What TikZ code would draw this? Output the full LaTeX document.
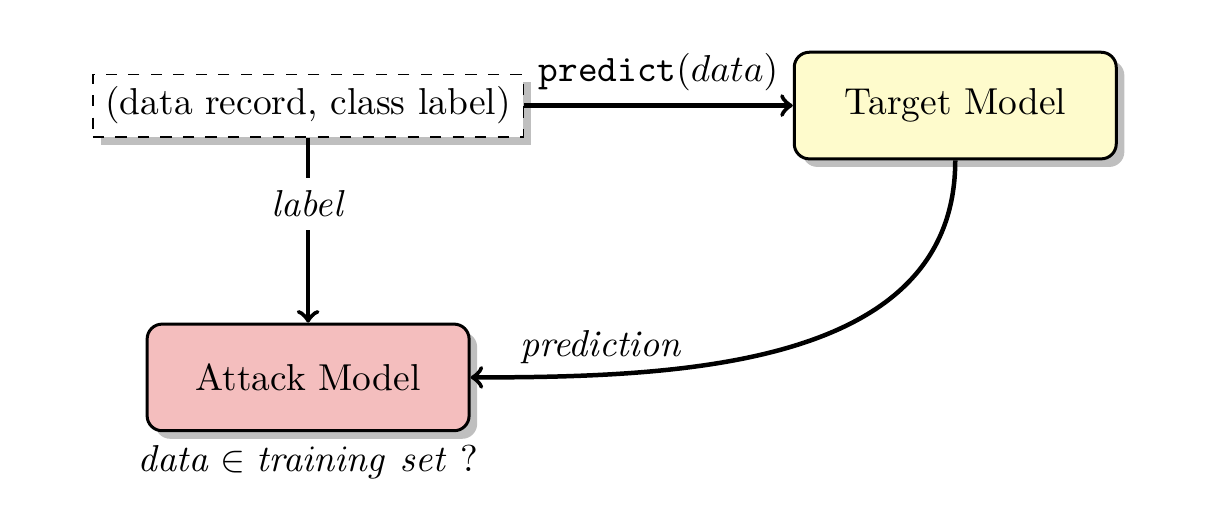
\documentclass[tikz,border=0pt]{standalone}
\usetikzlibrary{shadows}

\definecolor{attackfill}{RGB}{244,190,190}
\definecolor{targetfill}{RGB}{254,251,204}

\tikzset{
	model/.style={draw, thick, rounded corners=4pt, minimum width=3.02cm, minimum height=1cm, drop shadow},
	record/.style={draw, dashed, fill=white, drop shadow},
	flow/.style={->, very thick}
}

\begin{document}
\begin{tikzpicture}
	\useasboundingbox (0,0) rectangle (11.34,-4.76);

	\node[record] (rec) at (2.89,-0.99) {(data record, class label)};
	\node[model, fill=targetfill] (target) at (8.96,-0.99) {Target Model};
	\node[model, fill=attackfill] (attack) at (2.89,-3.54) {Attack Model};
	\node[below] (member) at (attack.south) {$\mathit{data} \in \mathit{training\ set}$ ?};

	\draw[flow] (rec) -- node[above]{\texttt{predict}$(data)$} (target);
	\draw[flow] (rec) -- node[pos=0.36, fill=white]{\textit{label}} (attack);
	\draw[flow] (target.south) to[out=-90, in=0] node[pos=0.8, above=-1pt]{\textit{prediction}} (attack.east);
\end{tikzpicture}
\end{document}
